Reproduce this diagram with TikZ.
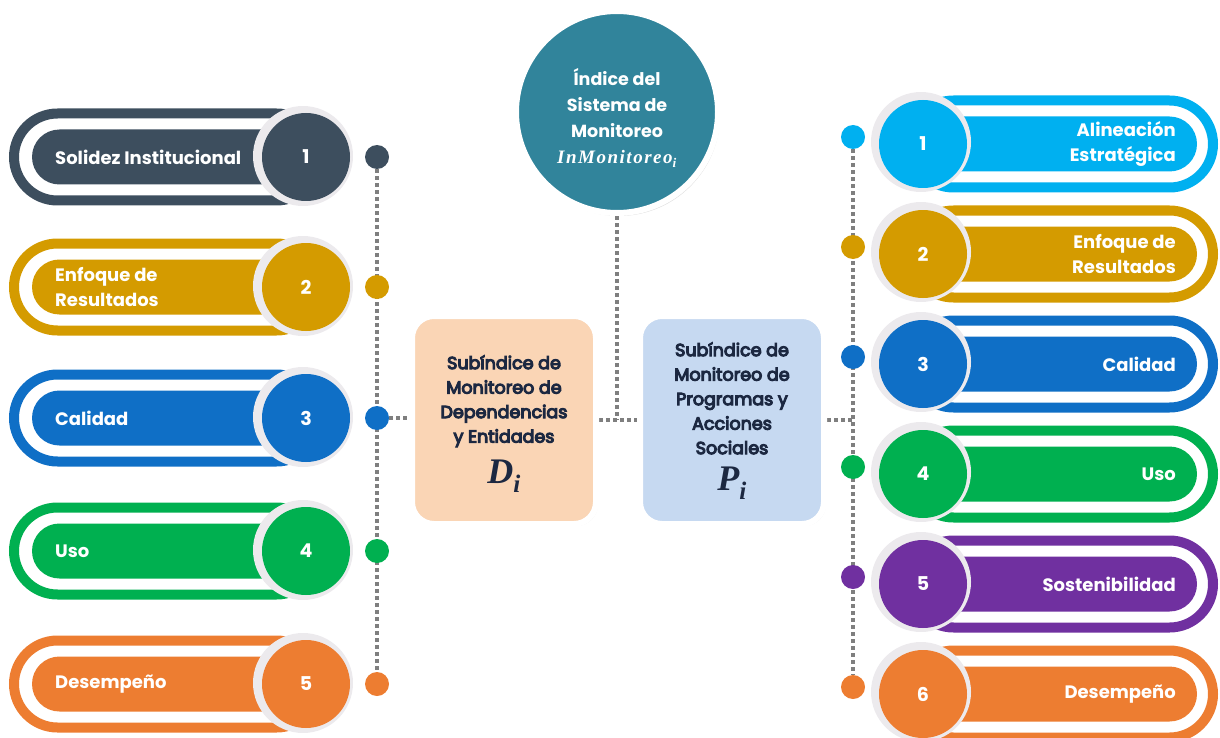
\documentclass[tikz,border=0pt]{standalone}
\usepackage{fontspec}
\setmainfont{Poppins}
\newfontfamily\medio[FakeBold=6]{Poppins}
\newfontfamily\serifm{Liberation Serif}
\usetikzlibrary{positioning,calc,shadows,backgrounds}

\definecolor{slate}{HTML}{3D4E5E}
\definecolor{gold}{HTML}{D49B00}
\definecolor{azul}{HTML}{0F6FC6}
\definecolor{verde}{HTML}{00B050}
\definecolor{naranja}{HTML}{ED7D31}
\definecolor{celeste}{HTML}{00B0F0}
\definecolor{morado}{HTML}{7030A0}
\definecolor{petroleo}{HTML}{31849B}
\definecolor{durazno}{HTML}{FAD5B5}
\definecolor{palido}{HTML}{C6D9F1}
\definecolor{marino}{HTML}{1C2841}
\definecolor{anillo}{HTML}{ECEAED}
\definecolor{punteado}{HTML}{7F7F7F}

\tikzset{
  capsula/.style={draw=#1, line width=10pt, fill=white, rounded corners=43.5pt,
    minimum height=87pt, inner sep=0pt},
  relleno/.style={fill=#1, rounded corners=27.5pt, minimum height=55pt, inner sep=0pt},
  anillo/.style={circle, fill=anillo, minimum size=100pt, inner sep=0pt},
  numero/.style={circle, fill=#1, minimum size=88pt, inner sep=0pt, text=white,
    font=\bfseries\fontsize{19}{22}\selectfont},
  punto/.style={circle, fill=#1, minimum size=24pt, inner sep=0pt},
  etiqueta/.style={text=white, inner sep=0pt, font=\bfseries\fontsize{18}{25}\selectfont},
  caja/.style={draw=white, line width=6pt, rounded corners=22pt, minimum width=184pt,
    minimum height=208pt,
    drop shadow={opacity=0.2, shadow xshift=2pt, shadow yshift=-2pt}},
  cajatxt/.style={text=marino, align=center, font=\medio\fontsize{17.5}{24.5}\selectfont},
  enlace/.style={draw=punteado, line width=4pt, dash pattern=on 4pt off 3pt}
}

\begin{document}
\begin{tikzpicture}[x=1pt,y=-1pt]
  \useasboundingbox (0,0) rectangle (1220,738);
  \clip (0,0) rectangle (1220,738);

  % lado izquierdo
  \foreach \i/\y/\c/\t in {1/157/slate/{Solidez Institucional},
                           2/287/gold/{Enfoque de\\Resultados},
                           3/418/azul/{Calidad},
                           4/551/verde/{Uso},
                           5/684/naranja/{Desempeño}} {
    \node[capsula=\c, minimum width=306pt] (lo\i) at (167,\y) {};
    \node[relleno=\c, minimum width=268pt] (li\i) at (166,\y) {};
    \node[anillo] (la\i) at (303,\y-1) {};
    \node[numero=\c] (ln\i) at (306,\y) {\i};
    \node[etiqueta, anchor=west, align=left] (lt\i) at (55,\y) {\t};
    \node[punto=\c] (ld\i) at (377,\y) {};
  }

  % lado derecho
  \foreach \i/\y/\c/\t in {1/144/celeste/{Alineación\\Estratégica},
                           2/254/gold/{Enfoque de\\Resultados},
                           3/364/azul/{Calidad},
                           4/474/verde/{Uso},
                           5/584/morado/{Sostenibilidad},
                           6/694/naranja/{Desempeño}} {
    \node[capsula=\c, minimum width=303pt] (ro\i) at (1061.5,\y) {};
    \node[relleno=\c, minimum width=267pt] (ri\i) at (1063.5,\y) {};
    \node[anillo] (ra\i) at (921,\y-2) {};
    \node[numero=\c] (rn\i) at (923,\y) {\i};
    \node[etiqueta, anchor=east, align=right] (rt\i) at (1176,\y) {\t};
    \node[punto=\c] (rd\i) at (853,\y-7) {};
  }

  % centro
  \node[caja, fill=durazno] (Di) at (504,420) {};
  \node[cajatxt] (Ditxt) at (504,424)
    {Subíndice de\\Monitoreo de\\Dependencias\\y Entidades\\[12pt]
     {\fontsize{36}{36}\selectfont\serifm\bfseries\itshape D\textsubscript{i}}};
  \node[caja, fill=palido] (Pi) at (732,420) {};
  \node[cajatxt] (Pitxt) at (732,421)
    {Subíndice de\\Monitoreo de\\Programas y\\Acciones\\Sociales\\[12pt]
     {\fontsize{36}{36}\selectfont\serifm\bfseries\itshape P\textsubscript{i}}};
  \node[circle, fill=petroleo, draw=white, line width=6pt, minimum size=202pt,
    drop shadow={opacity=0.25, shadow xshift=2pt, shadow yshift=-3pt}] (indice) at (617,112) {};
  \node[text=white, align=center, font=\bfseries\fontsize{17.5}{26}\selectfont] (titulo) at (617,118)
    {Índice del\\Sistema de\\Monitoreo\\{\fontsize{19}{26}\selectfont\serifm\bfseries\itshape
     \addfontfeature{LetterSpace=8}InMonitoreo\textsubscript{i}}};

  % lineas punteadas
  \begin{pgfonlayer}{background}
    \draw[enlace] (ld1) -- (ld5);
    \draw[enlace] (ld3) -- (ld3 -| Di.west);
    \draw[enlace] (Di.east) -- (Pi.west);
    \draw[enlace] (indice.south) -- (indice.south |- Di.east);
    \draw[enlace] (Pi.east) -- (Pi.east -| rd1);
    \draw[enlace] (rd1) -- (rd6);
  \end{pgfonlayer}
\end{tikzpicture}
\end{document}
